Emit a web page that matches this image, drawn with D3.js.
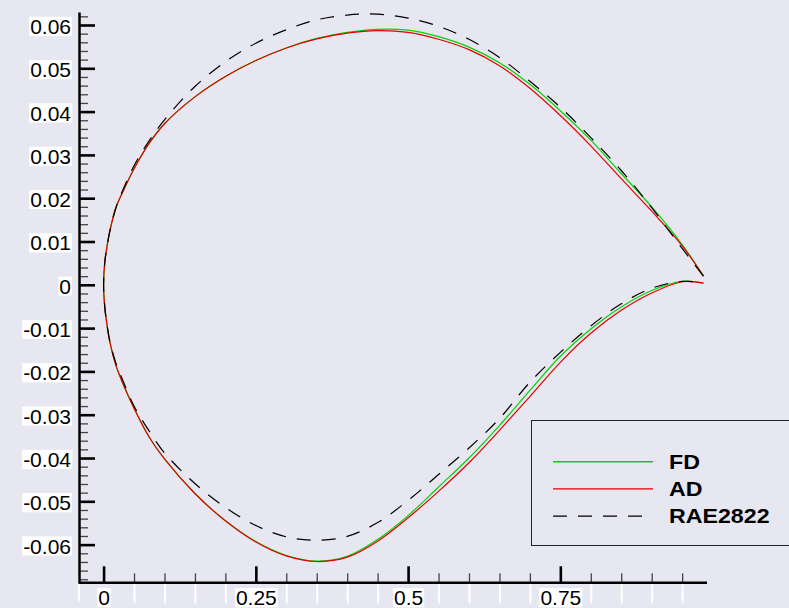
<!DOCTYPE html>
<html>
<head>
<meta charset="utf-8">
<script src="https://cdn.jsdelivr.net/npm/d3@7"></script>
<style>
  html, body { margin: 0; padding: 0; background: #e7e7f1; }
  svg { display: block; }
  text { font-family: "Liberation Sans", Arial, Helvetica, sans-serif; }
</style>
</head>
<body>
<svg id="chart" width="789" height="608"></svg>
<script>
// ---------- data ----------
const xStations = [0, 0.002, 0.005, 0.01, 0.02, 0.03, 0.05, 0.075, 0.1, 0.15, 0.2, 0.25, 0.3, 0.35, 0.4, 0.45, 0.5, 0.55, 0.6, 0.65, 0.7, 0.75, 0.8, 0.85, 0.9, 0.95, 0.985];

const fdUpper  = [0, 0.0053, 0.0083, 0.0122, 0.0178, 0.0210, 0.0268, 0.0327, 0.0372, 0.0434, 0.0481, 0.0518, 0.0547, 0.0569, 0.0583, 0.0590, 0.0588, 0.0573, 0.0549, 0.0513, 0.0463, 0.0402, 0.0334, 0.0257, 0.0180, 0.0093, 0.0020];
const fdLower  = [0, -0.0052, -0.0086, -0.0130, -0.0185, -0.0222, -0.0285, -0.0352, -0.0402, -0.0482, -0.0545, -0.0593, -0.0625, -0.0638, -0.0627, -0.0588, -0.0533, -0.0467, -0.0400, -0.0325, -0.0244, -0.0165, -0.0102, -0.0051, -0.0013, 0.0008, 0.0004];

const adUpper  = [0, 0.0053, 0.0083, 0.0122, 0.0178, 0.0210, 0.0268, 0.0327, 0.0372, 0.0434, 0.0481, 0.0518, 0.0547, 0.0568, 0.0581, 0.0587, 0.0583, 0.0567, 0.0543, 0.0506, 0.0454, 0.0391, 0.0321, 0.0245, 0.0170, 0.0090, 0.0020];
const adLower  = [0, -0.0052, -0.0086, -0.0130, -0.0185, -0.0222, -0.0285, -0.0352, -0.0402, -0.0482, -0.0545, -0.0594, -0.0626, -0.0639, -0.0629, -0.0592, -0.0538, -0.0477, -0.0411, -0.0336, -0.0258, -0.0179, -0.0112, -0.0059, -0.0019, 0.0007, 0.0004];

const raeUpper = [0, 0.0052, 0.0082, 0.0122, 0.0176, 0.0213, 0.0275, 0.0333, 0.0381, 0.0458, 0.0515, 0.0558, 0.0589, 0.0612, 0.0623, 0.0625, 0.0616, 0.0597, 0.0567, 0.0525, 0.0470, 0.0410, 0.0340, 0.0264, 0.0178, 0.0084, 0.0020];
const raeLower = [0, -0.0052, -0.0086, -0.0128, -0.0180, -0.0215, -0.0280, -0.0338, -0.0388, -0.0459, -0.0514, -0.0556, -0.0582, -0.0590, -0.0581, -0.0549, -0.0498, -0.0438, -0.0377, -0.0309, -0.0225, -0.0156, -0.0095, -0.0044, -0.0008, 0.0008, 0.0004];

const xTicks = [0, 0.25, 0.5, 0.75];
const xTickLabels = ["0", "0.25", "0.5", "0.75"];
const yTicks = [0.06, 0.05, 0.04, 0.03, 0.02, 0.01, 0, -0.01, -0.02, -0.03, -0.04, -0.05, -0.06];
const yTickLabels = ["0.06", "0.05", "0.04", "0.03", "0.02", "0.01", "0", "-0.01", "-0.02", "-0.03", "-0.04", "-0.05", "-0.06"];

const seriesNames = ["FD", "AD", "RAE2822"];

// ---------- layout ----------
const W = 789, H = 608;
const bg = "#e7e7f1";
const xDomain = [-0.042, 0.99];
const yDomain = [-0.0687, 0.063];
const x = d3.scaleLinear().domain(xDomain).range([78, 706.5]);
const y = d3.scaleLinear().domain(yDomain).range([582.3, 12]);

const svg = d3.select("#chart");
svg.append("rect").attr("width", W).attr("height", H).attr("fill", bg);

// ---------- curves ----------
function outline(upper, lower) {
  const pts = [];
  for (let i = xStations.length - 1; i >= 0; i--) pts.push([xStations[i], upper[i]]);
  for (let i = 1; i < xStations.length; i++) pts.push([xStations[i], lower[i]]);
  return pts;
}
const line = d3.line().x(d => x(d[0])).y(d => y(d[1])).curve(d3.curveCatmullRom.alpha(0.5));

const series = [
  { name: seriesNames[0], pts: outline(fdUpper, fdLower), color: "#00d400", dash: null },
  { name: seriesNames[1], pts: outline(adUpper, adLower), color: "#e60000", dash: null },
  { name: seriesNames[2], pts: outline(raeUpper, raeLower), color: "#000000", dash: "14,11" }
];

svg.append("g").selectAll("path").data(series).join("path")
  .attr("d", d => line(d.pts))
  .attr("fill", "none")
  .attr("stroke", d => d.color)
  .attr("stroke-width", 1.2)
  .attr("stroke-dasharray", d => d.dash);

// ---------- axes ----------
const fs = 21;
const yMinor = d3.range(-0.068, 0.0631, 0.002).map(v => +v.toFixed(3)).filter(v => Math.abs(Math.round(v * 100) - v * 100) > 1e-6);
const xMinor = d3.range(0.05, 0.96, 0.05).map(v => +v.toFixed(2)).filter(v => !xTicks.some(t => Math.abs(t - v) < 1e-6));

// Y axis
const gy = svg.append("g").attr("transform", `translate(${x(xDomain[0]) + 1},0)`);
gy.append("g").call(d3.axisLeft(y).tickValues(yMinor).tickSize(-9).tickSizeOuter(0).tickFormat(""))
  .call(g => g.select(".domain").remove())
  .call(g => g.selectAll("line").attr("stroke", "#444").attr("stroke-width", 1.3));
const yAx = gy.append("g").call(d3.axisLeft(y).tickValues(yTicks).tickSize(-16).tickSizeOuter(0).tickPadding(8)
    .tickFormat((d, i) => yTickLabels[i]));
yAx.select(".domain").attr("stroke", "#000").attr("stroke-width", 2.5);
yAx.selectAll(".tick line").attr("stroke", "#000").attr("stroke-width", 2.6);
yAx.selectAll(".tick text").attr("font-size", fs).attr("fill", "#000").attr("dy", "0.4em")
  .attr("font-family", '"Liberation Sans", Arial, sans-serif');

// X axis
const gx = svg.append("g").attr("transform", `translate(0,${y(yDomain[0])})`);
gx.append("g").call(d3.axisBottom(x).tickValues(xMinor).tickSize(-9).tickSizeOuter(0).tickFormat(""))
  .call(g => g.select(".domain").remove())
  .call(g => g.selectAll("line").attr("stroke", "#444").attr("stroke-width", 1.3));
const xAx = gx.append("g").call(d3.axisBottom(x).tickValues(xTicks).tickSize(-16).tickSizeOuter(0).tickPadding(8)
    .tickFormat((d, i) => xTickLabels[i]));
xAx.select(".domain").attr("stroke", "#000").attr("stroke-width", 2.5);
xAx.selectAll(".tick line").attr("stroke", "#000").attr("stroke-width", 2.6);
xAx.selectAll(".tick text").attr("font-size", fs).attr("fill", "#000")
  .attr("font-family", '"Liberation Sans", Arial, sans-serif');

// white boxes behind tick labels
svg.selectAll(".tick text").each(function () {
  const t = d3.select(this);
  const bb = this.getBBox();
  const cap = 0.72 * fs;
  const base = bb.y + bb.height * 0.0 + (fs * 0.905);
  d3.select(this.parentNode).insert("rect", "text")
    .attr("x", bb.x - 1).attr("width", bb.width + 2)
    .attr("y", base - cap - 2).attr("height", cap + 4)
    .attr("fill", "#ffffff");
});

// ---------- legend ----------
const lg = svg.append("g");
lg.append("rect").attr("x", 531.5).attr("y", 420.5).attr("width", 300).attr("height", 125)
  .attr("fill", bg).attr("stroke", "#222").attr("stroke-width", 1);
series.forEach((s, i) => {
  const ly = 461.7 + i * 27.2;
  lg.append("line").attr("x1", 553).attr("x2", 653).attr("y1", ly).attr("y2", ly)
    .attr("stroke", s.color).attr("stroke-width", 1.4).attr("stroke-dasharray", s.dash);
  lg.append("text").attr("transform", `translate(669,${ly + 7.3}) scale(1.19,1)`)
    .attr("font-size", 19.5).attr("font-weight", "bold").attr("fill", "#000")
    .text(s.name);
});
</script>
</body>
</html>
